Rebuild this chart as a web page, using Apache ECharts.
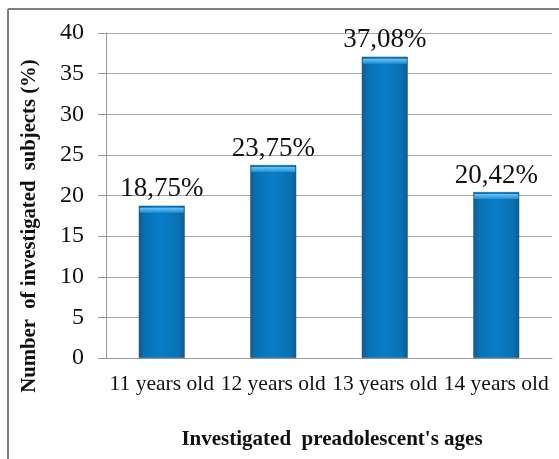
<!DOCTYPE html>
<html>
<head>
<meta charset="utf-8">
<script src="https://cdn.jsdelivr.net/npm/echarts@6/dist/echarts.min.js"></script>
<style>
  html, body { margin: 0; padding: 0; background: #fff; }
  #chart { width: 559px; height: 459px; }
</style>
</head>
<body>
<div id="chart"></div>
<script>
// Age groups and share of investigated subjects (%)
const categories = ['11 years old', '12 years old', '13 years old', '14 years old'];
const shares = [18.75, 23.75, 37.08, 20.42];
const valueLabels = ['18,75%', '23,75%', '37,08%', '20,42%'];
const yTicks = [0, 5, 10, 15, 20, 25, 30, 35, 40];

const serif = '"Liberation Serif", "Times New Roman", serif';
const chart = echarts.init(document.getElementById('chart'));

const barFill = new echarts.graphic.LinearGradient(0, 0, 1, 0, [
  { offset: 0, color: '#1a5684' },
  { offset: 0.12, color: '#0870b4' },
  { offset: 0.5, color: '#087ec8' },
  { offset: 0.88, color: '#0870b4' },
  { offset: 1, color: '#1a5684' }
]);
// light bevel on the top of each bar
const capFill = new echarts.graphic.LinearGradient(0, 0, 0, 1, [
  { offset: 0, color: '#6cc4ef' },
  { offset: 1, color: '#1f90d6' }
]);

chart.setOption({
  animation: false,
  grid: { left: 106, right: 7, top: 33, bottom: 101, containLabel: false },
  xAxis: {
    type: 'category',
    data: categories,
    axisLine: { lineStyle: { color: '#9a9a9a', width: 1 } },
    axisTick: { show: false },
    axisLabel: { interval: 0, fontFamily: serif, fontSize: 21.5, color: '#111', margin: 15 }
  },
  yAxis: {
    type: 'value',
    min: yTicks[0],
    max: yTicks[yTicks.length - 1],
    interval: 5,
    axisLine: { show: true, lineStyle: { color: '#9a9a9a', width: 1 } },
    axisTick: { show: true, length: 8, lineStyle: { color: '#9a9a9a' } },
    splitLine: { lineStyle: { color: '#a8a8a8', width: 1 } },
    axisLabel: { fontFamily: serif, fontSize: 24, color: '#111', margin: 22 }
  },
  series: [{
    type: 'bar',
    data: shares,
    barWidth: 46,
    itemStyle: { color: barFill, borderColor: '#1b5b8a', borderWidth: 0.5 },
    label: {
      show: true,
      position: 'top',
      distance: 3,
      fontFamily: serif,
      fontSize: 27,
      color: '#111',
      formatter: p => valueLabels[p.dataIndex]
    }
  }, {
    type: 'pictorialBar',
    data: shares,
    symbol: 'rect',
    symbolSize: [44, 5],
    symbolPosition: 'end',
    symbolOffset: [0, 2],
    barGap: '-100%',
    z: 3,
    silent: true,
    itemStyle: { color: capFill }
  }],
  graphic: [
    // frame around the chart
    { type: 'line', shape: { x1: 8, y1: 9, x2: 559, y2: 9 }, style: { stroke: '#7f7f7f', lineWidth: 2 } },
    { type: 'line', shape: { x1: 8, y1: 9, x2: 8, y2: 459 }, style: { stroke: '#7f7f7f', lineWidth: 2 } },
    // axis titles
    {
      type: 'text', x: 30, y: 226, rotation: Math.PI / 2,
      style: {
        text: 'Number  of investigated  subjects (%)',
        font: 'bold 20.7px ' + serif, fill: '#111',
        align: 'center', verticalAlign: 'middle'
      }
    },
    {
      type: 'text', x: 332, y: 440,
      style: {
        text: "Investigated  preadolescent's ages",
        font: 'bold 21px ' + serif, fill: '#111',
        align: 'center', verticalAlign: 'middle'
      }
    }
  ]
});
</script>
</body>
</html>
